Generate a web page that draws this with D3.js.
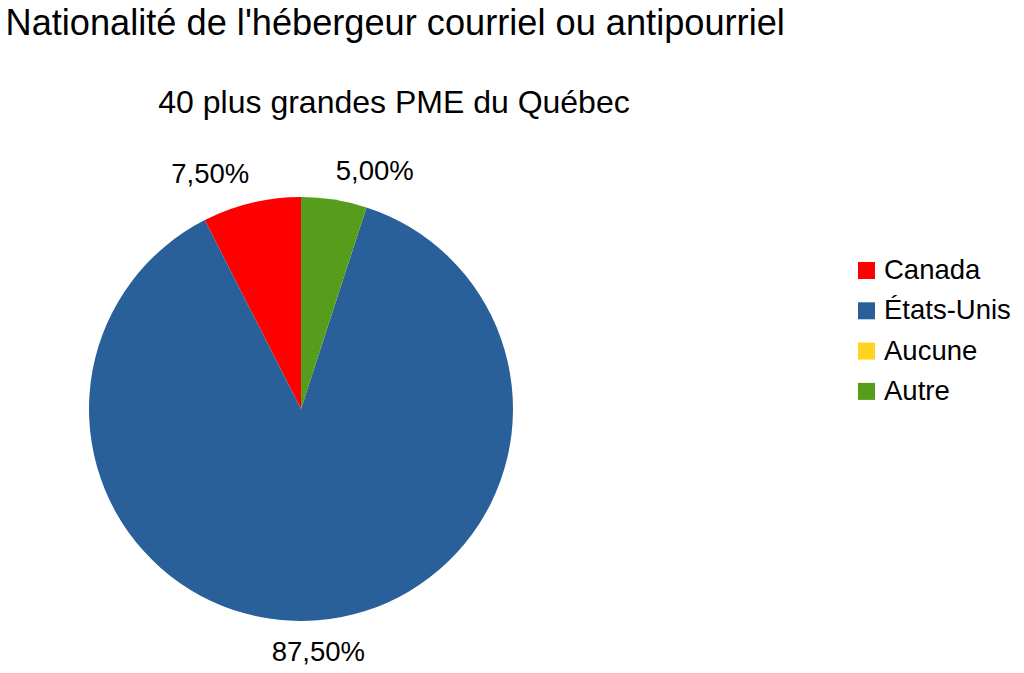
<!DOCTYPE html>
<html>
<head>
<meta charset="utf-8">
<script src="https://cdn.jsdelivr.net/npm/d3@7"></script>
<style>
  body { margin: 0; background: #fff; }
  svg { display: block; font-family: "Liberation Sans", Arial, sans-serif; }
</style>
</head>
<body>
<svg id="chart"></svg>
<script>
const title = "Nationalité de l'hébergeur courriel ou antipourriel";
const subtitle = "40 plus grandes PME du Québec";
const categories = ["Canada", "États-Unis", "Aucune", "Autre"];
const shares = [7.5, 87.5, 0, 5];
const palette = ["#ff0000", "#2a6099", "#ffd320", "#579d1c"];

function drawPie() {
    const width = 1024, height = 673;
    const cx = 301, cy = 409, radius = 212;

    const svg = d3.select("#chart")
        .attr("width", width)
        .attr("height", height);

    svg.append("text")
        .attr("x", 5.5)
        .attr("y", 35)
        .style("font-size", "36.2px")
        .text(title);

    svg.append("text")
        .attr("x", 394)
        .attr("y", 113)
        .attr("text-anchor", "middle")
        .style("font-size", "32px")
        .text(subtitle);

    const data = categories.map((c, i) => ({ category: c, value: shares[i], color: palette[i] }));

    // counterclockwise from 12 o'clock, like the original
    const pie = d3.pie()
        .sort(null)
        .value(d => d.value)
        .startAngle(0)
        .endAngle(-2 * Math.PI);

    const arc = d3.arc().innerRadius(0).outerRadius(radius);

    const g = svg.append("g").attr("transform", `translate(${cx},${cy})`);
    const arcs = pie(data).filter(d => d.data.value > 0);

    g.selectAll("path")
        .data(arcs)
        .enter().append("path")
        .attr("d", arc)
        .attr("fill", d => d.data.color);

    const fmt = v => v.toFixed(2).replace(".", ",") + "%";

    g.selectAll("text")
        .data(arcs)
        .enter().append("text")
        .each(function(d) {
            const a = (d.startAngle + d.endAngle) / 2;
            const px = Math.sin(a) * (radius + 10);
            const py = -Math.cos(a) * (radius + 10);
            const s = Math.sin(a);
            const anchor = s > 0.1 ? "start" : s < -0.1 ? "end" : "middle";
            const y = Math.cos(a) > 0 ? py - 10 : py + 31;
            d3.select(this)
                .attr("x", px)
                .attr("y", y)
                .attr("text-anchor", anchor)
                .style("font-size", "27.5px")
                .text(fmt(d.data.value));
        });

    const legend = svg.append("g").attr("transform", "translate(858,270)");
    const rows = legend.selectAll("g")
        .data(data)
        .enter().append("g")
        .attr("transform", (d, i) => `translate(0,${i * 40.3})`);

    rows.append("rect")
        .attr("x", 0)
        .attr("y", -8)
        .attr("width", 17)
        .attr("height", 17)
        .attr("fill", d => d.color);

    rows.append("text")
        .attr("x", 26)
        .attr("y", 9)
        .style("font-size", "27.5px")
        .text(d => d.category);
}

drawPie();
</script>
</body>
</html>
